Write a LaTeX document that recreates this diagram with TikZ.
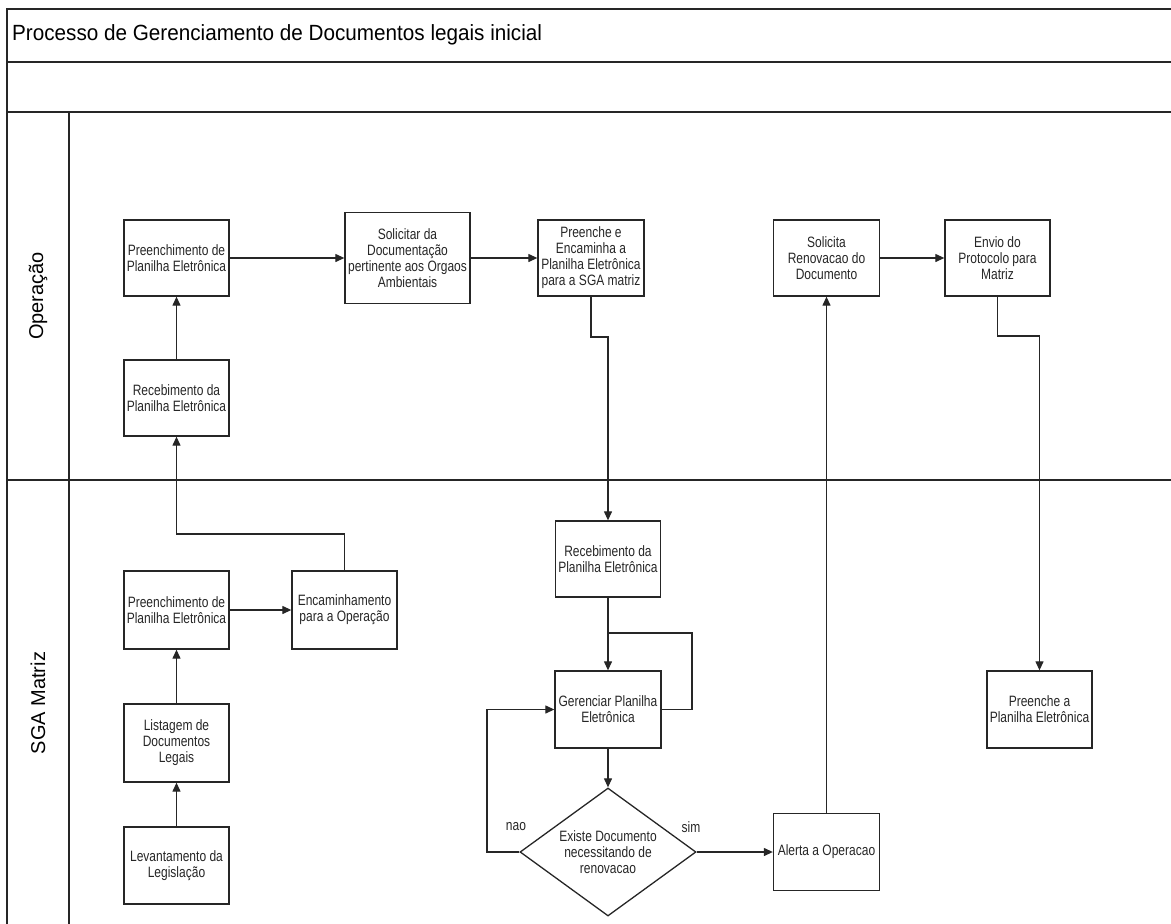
\documentclass[tikz,border=0pt]{standalone}
\usepackage{fontspec}
\setmainfont{Liberation Sans}
\newfontfamily\boxfont[FakeStretch=0.8]{Liberation Sans}
\newfontfamily\ttlfont[FakeStretch=0.94]{Liberation Sans}
\usetikzlibrary{arrows.meta,shapes.geometric}
\begin{document}
\begin{tikzpicture}[x=1pt,y=-1pt,
  frame/.style={line width=1.3pt,draw=black!85},
  box/.style={draw=black!85,line width=1.3pt,rectangle,inner sep=0pt,align=center,
     font=\boxfont\fontsize{15}{16}\selectfont,text=black!85},
  dec/.style={draw=black!85,line width=1.3pt,diamond,inner sep=0pt,align=center,
     font=\boxfont\fontsize{15}{16}\selectfont,text=black!85},
  lbl/.style={font=\boxfont\fontsize{15}{16}\selectfont,text=black!85,inner sep=0pt},
  lane/.style={font=\fontsize{20}{22}\selectfont,text=black,rotate=90,inner sep=0pt},
  conn/.style={draw=black!85,line width=1.2pt},
  arr/.style={conn,-{Triangle[length=9pt,width=8pt]}}
]
\useasboundingbox (0,0) rectangle (1171,924);
% frame
\draw[frame] (7,924) -- (7,9) -- (1175,9);
\draw[frame] (7,62) -- (1175,62);
\draw[frame] (7,112) -- (1175,112);
\draw[frame] (7,480) -- (1175,480);
\draw[frame] (69,112) -- (69,924);
\node[anchor=west,inner sep=0pt,font=\ttlfont\fontsize{22}{24}\selectfont] (title) at (12,35) {Processo de Gerenciamento de Documentos legais inicial};
\node[lane] (lop) at (38,296) {Operação};
\node[lane] (lsga) at (38,703) {SGA Matriz};
% Operacao lane
\node[box,minimum width=105pt,minimum height=76pt] (p1) at (176.5,258) {Preenchimento de\\Planilha Eletrônica};
\node[box,minimum width=125pt,minimum height=91pt] (sol) at (407.5,258) {Solicitar da\\Documentação\\pertinente aos Orgaos\\Ambientais};
\node[box,minimum width=106pt,minimum height=76pt] (pee) at (591,258) {Preenche e\\Encaminha a\\Planilha Eletrônica\\para a SGA matriz};
\node[box,minimum width=106pt,minimum height=76pt] (sren) at (826.5,258) {Solicita\\Renovacao do\\Documento};
\node[box,minimum width=105pt,minimum height=76pt] (env) at (997.5,258) {Envio do\\Protocolo para\\Matriz};
\node[box,minimum width=105pt,minimum height=76pt] (rop) at (176.5,398) {Recebimento da\\Planilha Eletrônica};
% SGA lane
\node[box,minimum width=105pt,minimum height=76pt] (rsga) at (608,559) {Recebimento da\\Planilha Eletrônica};
\node[box,minimum width=105pt,minimum height=78pt] (psga) at (176.5,610) {Preenchimento de\\Planilha Eletrônica};
\node[box,minimum width=105pt,minimum height=78pt] (enc) at (344.5,610) {Encaminhamento\\para a Operação};
\node[box,minimum width=105pt,minimum height=78pt] (list) at (176.5,743) {Listagem de\\Documentos\\Legais};
\node[box,minimum width=105pt,minimum height=77pt] (lev) at (176.5,865.5) {Levantamento da\\Legislação};
\node[box,minimum width=106pt,minimum height=77pt] (ger) at (608,709.5) {Gerenciar Planilha\\Eletrônica};
\node[dec,minimum width=176pt,minimum height=128pt,aspect=1.375] (dia) at (608,852) {Existe Documento\\necessitando de\\renovacao};
\node[box,minimum width=106pt,minimum height=77pt] (al) at (826.5,852) {Alerta a Operacao};
\node[box,minimum width=105pt,minimum height=77pt] (pa) at (1039.5,709.5) {Preenche a\\Planilha Eletrônica};
\node[lbl] (nao) at (516,827) {nao};
\node[lbl] (sim) at (691,827) {sim};
% helper coordinates
\coordinate (c1) at (608,337);
\coordinate (c2) at (176.5,534);
\coordinate (c3) at (692,633);
\coordinate (c4) at (608,633);
\coordinate (c5) at (487,709.5);
\coordinate (c6) at (1039.5,336);
% connectors
\draw[arr] (p1) -- (sol);
\draw[arr] (sol) -- (pee);
\draw[arr] (pee.south) |- (c1) -- (rsga.north);
\draw[arr] (rop) -- (p1);
\draw[arr] (enc.north) |- (c2) -- (rop.south);
\draw[arr] (psga) -- (enc);
\draw[arr] (list) -- (psga);
\draw[arr] (lev) -- (list);
\draw[arr] (rsga) -- (ger);
\draw[conn] (ger.east) -| (c3) -- (c4);
\draw[arr] (ger.south) -- (dia.north);
\draw[arr] (dia.west) -| (c5) -- (ger.west);
\draw[arr] (dia.east) -- (al.west);
\draw[arr] (al.north) -- (sren.south);
\draw[arr] (sren) -- (env);
\draw[arr] (env.south) |- (c6) -- (pa.north);
\end{tikzpicture}
\end{document}
